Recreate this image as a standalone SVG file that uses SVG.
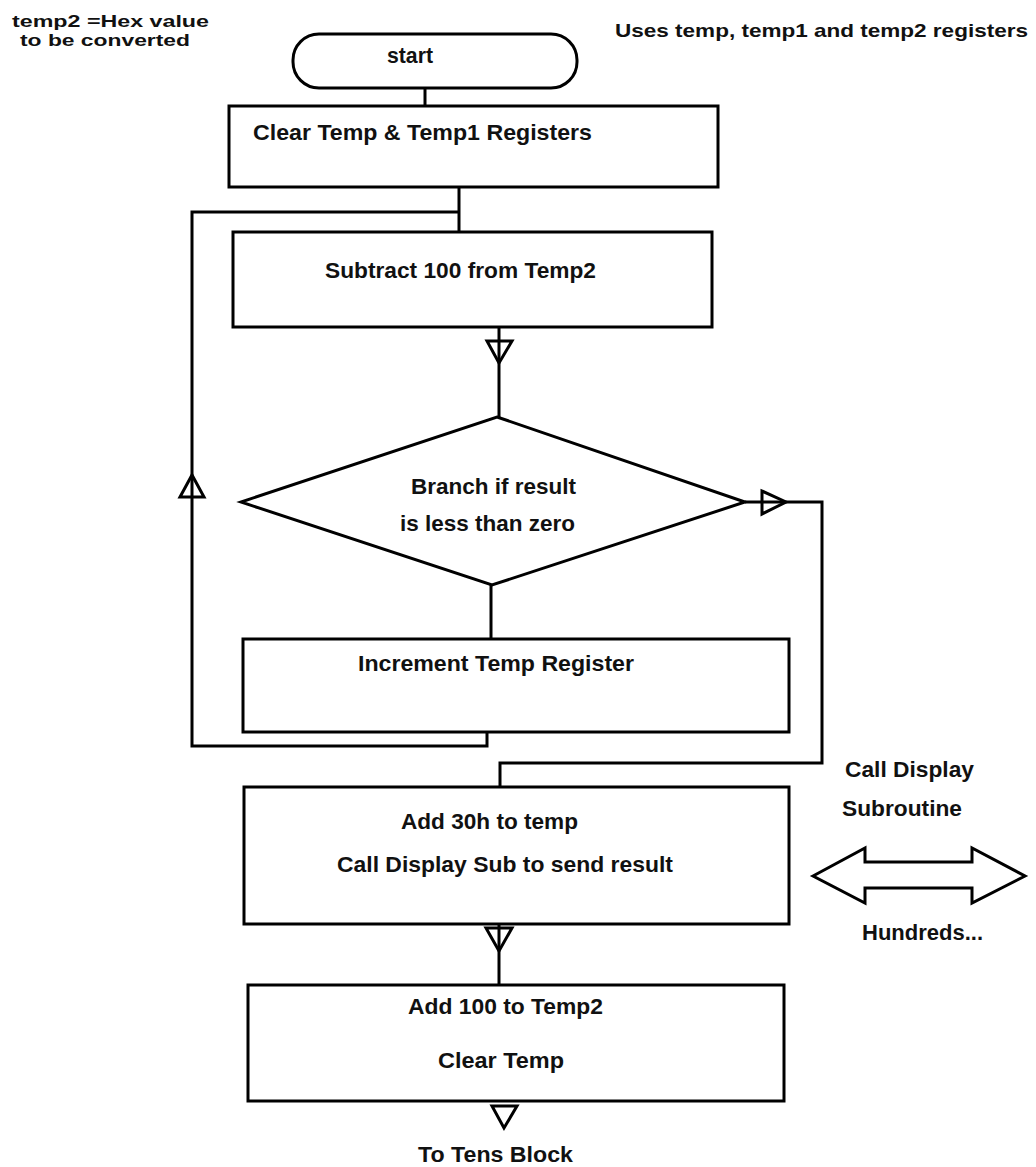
<svg xmlns="http://www.w3.org/2000/svg" width="1036" height="1167" viewBox="0 0 1036 1167">
<style>
.s{fill:none;stroke:#000;stroke-width:3}
.w{fill:#fff;stroke:#000;stroke-width:3}
.t{font-family:"Liberation Sans",Arial,sans-serif;font-weight:bold;font-size:22px;fill:#111}
.sm{font-size:17px}
.md{font-size:19px}
</style>
<rect width="1036" height="1167" fill="#fff"/>
<g id="connectors" class="s">
  <line x1="425" y1="88" x2="425" y2="106"/>
  <polyline points="459,187 459,232"/>
  <polyline points="459,212 192,212 192,746 487,746 487,732"/>
  <polygon points="180,497 204,497 192,475"/>
  <line x1="499" y1="327" x2="499" y2="417"/>
  <polygon points="487,341 512,341 499,363"/>
  <line x1="491" y1="585" x2="491" y2="639"/>
  <polyline points="745,502 822,502 822,763 500,763 500,787"/>
  <polygon points="762,491 762,514 786,502"/>
  <line x1="499" y1="924" x2="499" y2="985"/>
  <polygon points="486,928 512,928 499,951"/>
  <polygon points="492,1106 517,1106 504,1128"/>
</g>
<g id="note1">
  <text class="t sm" x="12" y="27" textLength="197" lengthAdjust="spacingAndGlyphs">temp2 =Hex value</text>
  <text class="t sm" x="20" y="46" textLength="170" lengthAdjust="spacingAndGlyphs">to be converted</text>
</g>
<g id="note2">
  <text class="t md" x="615" y="37" textLength="413" lengthAdjust="spacingAndGlyphs">Uses temp, temp1 and temp2 registers</text>
</g>
<g id="start">
  <rect class="w" x="293" y="34" width="284" height="54" rx="26" ry="26"/>
  <text class="t" x="387" y="63" textLength="46" lengthAdjust="spacingAndGlyphs">start</text>
</g>
<g id="clear">
  <rect class="w" x="229" y="106" width="489" height="81"/>
  <text class="t" x="253" y="140" textLength="339" lengthAdjust="spacingAndGlyphs">Clear Temp &amp; Temp1 Registers</text>
</g>
<g id="subtract">
  <rect class="w" x="233" y="232" width="479" height="95"/>
  <text class="t" x="325" y="278" textLength="271" lengthAdjust="spacingAndGlyphs">Subtract 100 from Temp2</text>
</g>
<g id="branch">
  <polygon class="w" points="497,417 745,502 492,585 241,502"/>
  <text class="t" x="411" y="494" textLength="165" lengthAdjust="spacingAndGlyphs">Branch if result</text>
  <text class="t" x="400" y="531" textLength="175" lengthAdjust="spacingAndGlyphs">is less than zero</text>
</g>
<g id="increment">
  <rect class="w" x="243" y="639" width="546" height="93"/>
  <text class="t" x="358" y="671" textLength="276" lengthAdjust="spacingAndGlyphs">Increment Temp Register</text>
</g>
<g id="add30">
  <rect class="w" x="244" y="787" width="545" height="137"/>
  <text class="t" x="401" y="829" textLength="177" lengthAdjust="spacingAndGlyphs">Add 30h to temp</text>
  <text class="t" x="337" y="872" textLength="336" lengthAdjust="spacingAndGlyphs">Call Display Sub to send result</text>
</g>
<g id="add100">
  <rect class="w" x="248" y="985" width="536" height="116"/>
  <text class="t" x="408" y="1014" textLength="195" lengthAdjust="spacingAndGlyphs">Add 100 to Temp2</text>
  <text class="t" x="438" y="1068" textLength="126" lengthAdjust="spacingAndGlyphs">Clear Temp</text>
</g>
<g id="tens">
  <text class="t" x="418" y="1162" textLength="155" lengthAdjust="spacingAndGlyphs">To Tens Block</text>
</g>
<g id="display">
  <text class="t" x="845" y="777" textLength="129" lengthAdjust="spacingAndGlyphs">Call Display</text>
  <text class="t" x="842" y="816" textLength="120" lengthAdjust="spacingAndGlyphs">Subroutine</text>
  <polygon class="w" points="813,876 865,848 865,862 972,862 972,848 1025,876 972,903 972,888 865,888 865,903"/>
  <text class="t" x="862" y="940" textLength="121" lengthAdjust="spacingAndGlyphs">Hundreds...</text>
</g>
</svg>
